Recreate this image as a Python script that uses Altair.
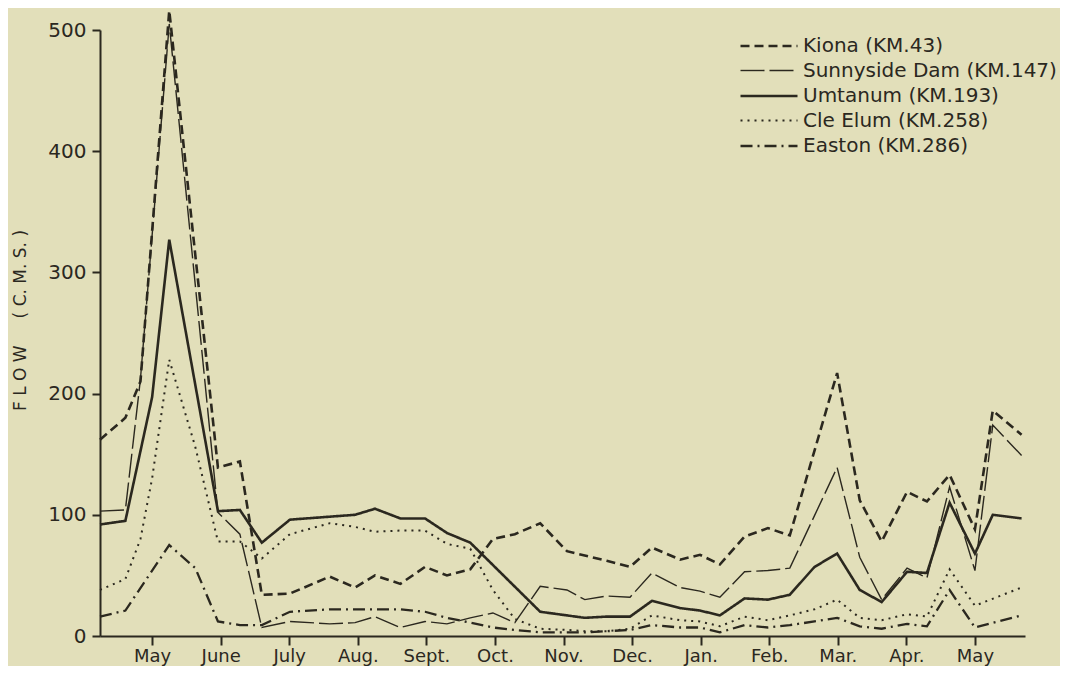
import altair as alt
import pandas as pd

# x positions of sample points, in months after the first May tick (0 = May, 12 = next May)
month_pos = [-0.76, -0.39, -0.17, 0.00, 0.25, 0.63, 0.96, 1.28, 1.60, 2.01,
             2.59, 2.96, 3.25, 3.62, 3.98, 4.30, 4.64, 4.97, 5.29, 5.66,
             6.05, 6.31, 6.63, 6.97, 7.29, 7.70, 7.99, 8.28, 8.64, 8.98,
             9.30, 9.66, 9.99, 10.32, 10.64, 11.01, 11.30, 11.63, 12.00, 12.26,
             12.68]

kiona = [162, 180, 210, None, 516, None, 139, 144, 34, 35,
         49, 40, 50, 43, 57, 50, 55, 80, 84, 93,
         70, None, 62, 57, 73, 63, 67, 59, 82, 89,
         83, None, 217, 112, 78, 119, 111, 133, 88, 186,
         166]

sunnyside = [103, 104, 212, None, 505, None, 102, 84, 7, 12,
             10, 11, 16, 7, 12, 10, 15, 19, 11, 41,
             38, 30, 33, 32, 52, 40, 37, 32, 53, 54,
             56, None, 139, 65, 30, 56, 48, 123, 54, 174,
             149]

umtanum = [92, 95, None, 197, 327, None, 103, 104, 77, 96,
           None, 100, 105, 97, 97, 85, 77, None, None, 20,
           None, 15, 16, 16, 29, 23, 21, 17, 31, 30,
           34, 57, 68, 38, 28, 53, 52, 110, 68, 100,
           97]

cle_elum = [38, 47, 80, 130, 228, 156, 78, 78, 64, 84,
            93, 90, 86, 87, 87, 76, 72, 38, 14, 6,
            5, 4, 4, 6, 17, 13, 12, 8, 16, 13,
            17, 22, 30, 15, 13, 18, 16, 55, 25, None,
            40]

easton = [16, 21, None, None, 75, 56, 12, 9, 9, 20,
          22, 22, 22, 22, 20, 15, 11, 7, 5, 3,
          3, 3, 4, 5, 9, 7, 7, 3, 9, 7,
          9, 12, 15, 8, 6, 10, 8, 38, 7, None,
          17]

station_names = ["Kiona (KM.43)", "Sunnyside Dam (KM.147)", "Umtanum (KM.193)",
                 "Cle Elum (KM.258)", "Easton (KM.286)"]
month_labels = ["May", "June", "July", "Aug.", "Sept.", "Oct.", "Nov.", "Dec.",
                "Jan.", "Feb.", "Mar.", "Apr.", "May"]
y_ticks = [0, 100, 200, 300, 400, 500]

rows = []
for name, vals in zip(station_names, [kiona, sunnyside, umtanum, cle_elum, easton]):
    for order, (m, v) in enumerate(zip(month_pos, vals)):
        if v is not None:
            rows.append({"station": name, "month": m, "flow": v, "order": order})
df = pd.DataFrame(rows)

label_expr = "[" + ",".join("'%s'" % l for l in month_labels) + "][datum.value]"

INK = "#2b281f"
FONT = "DejaVu Sans"

chart = alt.Chart(df).mark_line(color=INK).encode(
    x=alt.X("month:Q",
            scale=alt.Scale(domain=[-0.76, 12.73], nice=False, zero=False),
            axis=alt.Axis(values=list(range(13)), labelExpr=label_expr, title=None,
                          grid=False, tickSize=9, labelPadding=2, labelFontSize=18,
                          labelFont=FONT, labelColor=INK, domainColor=INK, tickColor=INK,
                          domainWidth=2, tickWidth=2, labelBound=False, labelOverlap=False)),
    y=alt.Y("flow:Q",
            scale=alt.Scale(domain=[0, 500], nice=False),
            axis=alt.Axis(values=y_ticks, title="F L O W\u00a0\u00a0\u00a0\u00a0\u00a0( C. M. S. )",
                          titleX=-80, titleY=290, titleAngle=-90, titleAlign="center",
                          titleBaseline="middle", titleFont=FONT, titleFontSize=17,
                          titleFontWeight="normal", titleColor=INK,
                          grid=False, tickSize=8, labelPadding=6, labelFontSize=20,
                          labelFont=FONT, labelColor=INK, domainColor=INK, tickColor=INK,
                          domainWidth=2, tickWidth=2)),
    strokeDash=alt.StrokeDash("station:N",
                              scale=alt.Scale(domain=station_names,
                                              range=[[9, 5], [24, 5], [1, 0], [2, 5], [12, 5, 2, 5]]),
                              legend=alt.Legend(title=None, orient="none", legendX=677, legendY=5,
                                                symbolType="M-5,0H1", symbolSize=361,
                                                symbolStrokeColor=INK, symbolFillColor="transparent",
                                                labelFont=FONT, labelFontSize=20, labelColor=INK,
                                                rowPadding=4, labelOffset=4, padding=0,
                                                labelLimit=400)),
    strokeWidth=alt.StrokeWidth("station:N",
                                scale=alt.Scale(type="ordinal", domain=station_names,
                                                range=[2.6, 1.4, 2.6, 2.0, 2.3])),
    order="order:Q",
).properties(
    width=925, height=606,
    autosize=alt.AutoSizeParams(type="none"),
    padding={"left": 92, "top": 22, "right": 35, "bottom": 30},
    background="#e2dfba",
).configure_view(stroke=None)

chart.save("out.html", embed_options={"renderer": "svg", "actions": False})
